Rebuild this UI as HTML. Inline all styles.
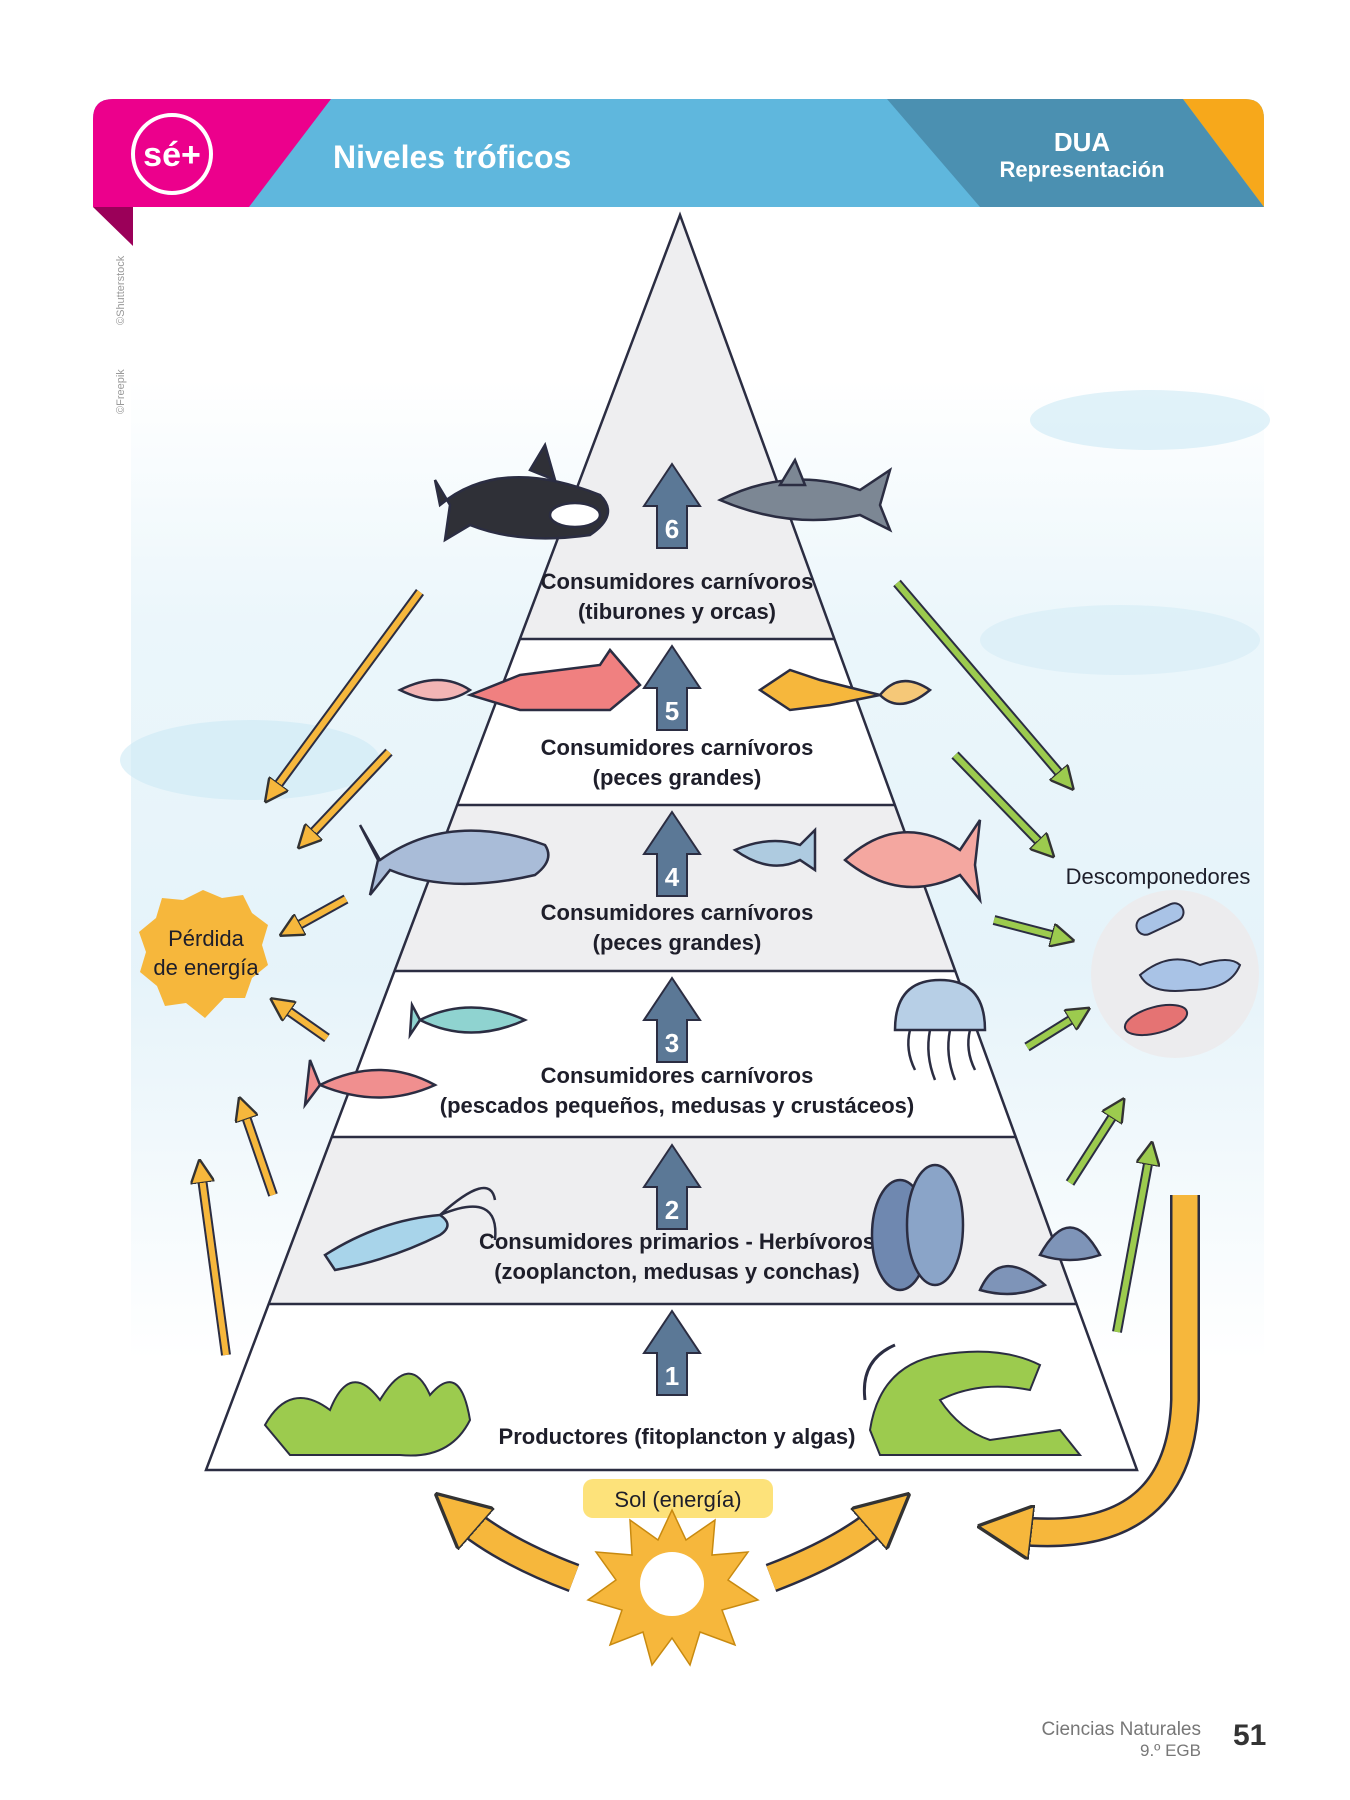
<!DOCTYPE html>
<html><head><meta charset="utf-8"><style>
html,body{margin:0;padding:0;background:#fff}
svg{display:block}
text{font-family:"Liberation Sans",sans-serif}
</style></head><body>
<svg width="1350" height="1800" viewBox="0 0 1350 1800" xmlns="http://www.w3.org/2000/svg">
<defs>
<marker id="ao" viewBox="0 0 10 10" refX="5" refY="5" markerWidth="4" markerHeight="4" orient="auto"><path d="M0,0 L10,5 L0,10 Z" fill="#f6b73c" stroke="#333" stroke-width="1"/></marker>
<marker id="ag" viewBox="0 0 10 10" refX="5" refY="5" markerWidth="4" markerHeight="4" orient="auto"><path d="M0,0 L10,5 L0,10 Z" fill="#9ccb4e" stroke="#333" stroke-width="1"/></marker>
<marker id="ab" viewBox="0 0 10 10" refX="4" refY="5" markerWidth="2.2" markerHeight="2.2" orient="auto"><path d="M0,0 L10,5 L0,10 Z" fill="#f6b73c" stroke="#333" stroke-width="0.6"/></marker>
<linearGradient id="bg" x1="0" y1="0" x2="0" y2="1"><stop offset="0" stop-color="#fff"/><stop offset="0.25" stop-color="#e6f4fa"/><stop offset="0.6" stop-color="#dff0f8"/><stop offset="1" stop-color="#fff"/></linearGradient>
</defs>
<rect x="131" y="380" width="1133" height="980" fill="url(#bg)" opacity="0.8"/>
<ellipse cx="250" cy="760" rx="130" ry="40" fill="#cde9f5" opacity="0.6"/>
<ellipse cx="1150" cy="420" rx="120" ry="30" fill="#cde9f5" opacity="0.6"/>
<ellipse cx="1120" cy="640" rx="140" ry="35" fill="#d6edf7" opacity="0.6"/>
<path d="M93,119 Q93,99 113,99 L1245,99 Q1264,99 1264,119 L1264,207 L93,207 Z" fill="#5fb7dd"/>
<path d="M93,119 Q93,99 113,99 L331,99 L249,207 L93,207 Z" fill="#ec008c"/>
<path d="M887,99 L1183,99 L1264,207 L980,207 Z" fill="#4b90b1"/>
<path d="M1183,99 L1245,99 Q1264,99 1264,119 L1264,207 Z" fill="#f7a81b"/>
<path d="M93,207 L133,207 L133,246 Z" fill="#9b0059"/>
<circle cx="172" cy="154" r="39" fill="none" stroke="#fff" stroke-width="4"/>
<text x="172" y="166" font-size="34" font-weight="bold" fill="#fff" text-anchor="middle">sé+</text>
<text x="333" y="168" font-size="32" font-weight="bold" fill="#fff">Niveles tróficos</text>
<text x="1082" y="151" font-size="26" font-weight="bold" fill="#fff" text-anchor="middle">DUA</text>
<text x="1082" y="177" font-size="22" font-weight="bold" fill="#fff" text-anchor="middle">Representación</text>
<text transform="translate(124,325) rotate(-90)" font-size="11" fill="#999">©Shutterstock</text>
<text transform="translate(124,414) rotate(-90)" font-size="11" fill="#999">©Freepik</text>
<path d="M680,215 L520,639 L834,639 Z" fill="#eeeef0"/>
<path d="M520,639 L457,805 L895,805 L834,639 Z" fill="#fff"/>
<path d="M457,805 L394,971 L955,971 L895,805 Z" fill="#eeeef0"/>
<path d="M394,971 L332,1137 L1016,1137 L955,971 Z" fill="#fff"/>
<path d="M332,1137 L269,1304 L1076,1304 L1016,1137 Z" fill="#eeeef0"/>
<path d="M269,1304 L206,1470 L1137,1470 L1076,1304 Z" fill="#fff"/>
<g stroke="#2b2d42" stroke-width="2.5" fill="none">
<path d="M680,215 L206,1470 L1137,1470 Z"/>
<path d="M520,639 L834,639 M457,805 L895,805 M394,971 L955,971 M332,1137 L1016,1137 M269,1304 L1076,1304"/>
</g>
<g fill="#5b7896" stroke="#2b2d42" stroke-width="2">
<path d="M672,464 L700,506 L687,506 L687,548 L657,548 L657,506 L644,506 Z"/>
<path d="M672,646 L700,688 L687,688 L687,730 L657,730 L657,688 L644,688 Z"/>
<path d="M672,812 L700,854 L687,854 L687,896 L657,896 L657,854 L644,854 Z"/>
<path d="M672,978 L700,1020 L687,1020 L687,1062 L657,1062 L657,1020 L644,1020 Z"/>
<path d="M672,1145 L700,1187 L687,1187 L687,1229 L657,1229 L657,1187 L644,1187 Z"/>
<path d="M672,1311 L700,1353 L687,1353 L687,1395 L657,1395 L657,1353 L644,1353 Z"/>
</g>
<g fill="#fff" font-size="26" font-weight="bold" text-anchor="middle">
<text x="672" y="538">6</text><text x="672" y="720">5</text><text x="672" y="886">4</text>
<text x="672" y="1052">3</text><text x="672" y="1219">2</text><text x="672" y="1385">1</text>
</g>
<g font-size="22" fill="#1e1e2a" text-anchor="middle" font-weight="bold">
<text x="677" y="589">Consumidores carnívoros</text><text x="677" y="619">(tiburones y orcas)</text>
<text x="677" y="755">Consumidores carnívoros</text><text x="677" y="785">(peces grandes)</text>
<text x="677" y="920">Consumidores carnívoros</text><text x="677" y="950">(peces grandes)</text>
<text x="677" y="1083">Consumidores carnívoros</text><text x="677" y="1113">(pescados pequeños, medusas y crustáceos)</text>
<text x="677" y="1249">Consumidores primarios - Herbívoros</text><text x="677" y="1279">(zooplancton, medusas y conchas)</text>
<text x="677" y="1444">Productores (fitoplancton y algas)</text>
</g>
<g stroke="#2b2d42" stroke-width="2.5">
<path d="M440,505 Q500,455 600,495 Q620,515 590,535 Q520,545 470,525 L445,540 L450,505 L435,480 Z" fill="#2f3037"/>
<ellipse cx="575" cy="515" rx="25" ry="12" fill="#fff"/>
<path d="M530,470 L545,445 L555,480 Z" fill="#2f3037"/>
<path d="M720,500 Q790,465 860,490 L890,470 L880,505 L890,530 L860,515 Q790,530 720,500 Z" fill="#7c8794"/>
<path d="M780,485 L795,460 L805,485 Z" fill="#7c8794"/>
<path d="M470,695 L520,675 L600,665 L610,650 L640,685 L610,710 L520,710 Z" fill="#f08080"/>
<path d="M400,690 Q440,670 470,690 Q440,710 400,690 Z" fill="#f3b5b5"/>
<path d="M880,695 L820,680 L790,670 L760,690 L790,710 L830,705 Z" fill="#f6b73c"/>
<path d="M880,695 Q900,670 930,690 Q900,715 880,695 Z" fill="#f5c878"/>
<path d="M380,860 Q450,810 545,845 Q555,860 535,875 Q450,895 390,870 L370,895 L378,860 L360,825 Z" fill="#a9bcd8"/>
<path d="M735,850 Q770,835 800,845 L815,830 L815,870 L800,860 Q770,875 735,850 Z" fill="#aecbe0"/>
<path d="M845,860 Q900,810 960,850 L980,820 L975,865 L980,900 L960,875 Q900,905 845,860 Z" fill="#f4a7a0"/>
<path d="M420,1020 Q470,995 525,1020 Q470,1045 420,1020 L410,1035 L412,1005 Z" fill="#8fd3d0"/>
<path d="M320,1085 Q380,1055 435,1085 Q380,1110 320,1085 L305,1105 L310,1060 Z" fill="#f08f8f"/>
<path d="M895,1030 Q895,980 940,980 Q985,980 985,1030 Z" fill="#b7cfe6"/>
<path d="M910,1030 q-5,20 5,40 M930,1030 q-5,25 5,50 M950,1030 q-5,25 5,50 M970,1030 q-5,20 5,40" fill="none"/>
<path d="M325,1255 Q380,1220 440,1215 Q455,1225 440,1235 Q390,1260 335,1270 Z" fill="#a8d4ea"/>
<path d="M440,1215 Q490,1170 495,1200 M440,1215 Q500,1190 495,1240" fill="none"/>
<ellipse cx="900" cy="1235" rx="28" ry="55" fill="#6f88b0"/>
<ellipse cx="935" cy="1225" rx="28" ry="60" fill="#8aa4c8"/>
<path d="M980,1290 Q1000,1245 1045,1285 Q1015,1300 980,1290 Z" fill="#7e94b8"/>
<path d="M1040,1255 Q1070,1200 1100,1255 Q1070,1265 1040,1255 Z" fill="#7e94b8"/>
</g>
<g fill="#9ccb4e" stroke="#2b2d42" stroke-width="2">
<path d="M265,1425 Q290,1380 330,1410 Q350,1360 380,1400 Q410,1350 430,1395 Q460,1360 470,1420 Q450,1460 400,1455 L290,1455 Z"/>
<path d="M870,1430 Q880,1365 940,1355 Q1000,1345 1040,1365 L1030,1390 Q980,1380 940,1400 Q960,1430 990,1440 L1060,1430 L1080,1455 L880,1455 Z"/>
</g>
<path d="M865,1400 Q860,1360 895,1345" stroke="#2b2d42" stroke-width="3" fill="none"/>
<g stroke="#2b2d42" stroke-width="10" stroke-linecap="butt">
<line x1="420" y1="592" x2="272" y2="793"/><line x1="389" y1="752" x2="306" y2="840"/><line x1="346" y1="899" x2="290" y2="930"/>
<line x1="327" y1="1038" x2="280" y2="1005"/><line x1="273" y1="1195" x2="243" y2="1108"/><line x1="226" y1="1355" x2="201" y2="1171"/>
</g>
<g stroke="#f6b73c" stroke-width="6">
<line x1="420" y1="592" x2="272" y2="793" marker-end="url(#ao)"/><line x1="389" y1="752" x2="306" y2="840" marker-end="url(#ao)"/><line x1="346" y1="899" x2="290" y2="930" marker-end="url(#ao)"/>
<line x1="327" y1="1038" x2="280" y2="1005" marker-end="url(#ao)"/><line x1="273" y1="1195" x2="243" y2="1108" marker-end="url(#ao)"/><line x1="226" y1="1355" x2="201" y2="1171" marker-end="url(#ao)"/>
</g>
<g stroke="#2b2d42" stroke-width="10">
<line x1="897" y1="583" x2="1066" y2="781"/><line x1="955" y1="755" x2="1046" y2="849"/><line x1="994" y1="920" x2="1063" y2="938"/>
<line x1="1027" y1="1047" x2="1080" y2="1014"/><line x1="1070" y1="1183" x2="1118" y2="1108"/><line x1="1117" y1="1332" x2="1150" y2="1153"/>
</g>
<g stroke="#9ccb4e" stroke-width="6">
<line x1="897" y1="583" x2="1066" y2="781" marker-end="url(#ag)"/><line x1="955" y1="755" x2="1046" y2="849" marker-end="url(#ag)"/><line x1="994" y1="920" x2="1063" y2="938" marker-end="url(#ag)"/>
<line x1="1027" y1="1047" x2="1080" y2="1014" marker-end="url(#ag)"/><line x1="1070" y1="1183" x2="1118" y2="1108" marker-end="url(#ag)"/><line x1="1117" y1="1332" x2="1150" y2="1153" marker-end="url(#ag)"/>
</g>
<path d="M203,890 L222,898 L243,895 L252,913 L268,925 L262,945 L268,965 L252,978 L245,998 L224,998 L205,1018 L186,1003 L165,1006 L157,986 L140,972 L146,952 L139,932 L156,918 L162,898 L183,900 Z" fill="#f6b73c"/>
<text x="206" y="946" font-size="22" fill="#1e1e2a" text-anchor="middle">Pérdida</text>
<text x="206" y="975" font-size="22" fill="#1e1e2a" text-anchor="middle">de energía</text>
<text x="1158" y="884" font-size="22" fill="#1e1e2a" text-anchor="middle">Descomponedores</text>
<circle cx="1175" cy="974" r="84" fill="#ececee"/>
<g stroke="#2b2d42" stroke-width="2">
<rect x="1135" y="910" width="50" height="18" rx="9" fill="#a9c3e6" transform="rotate(-25 1160 919)"/>
<path d="M1140,975 Q1170,950 1200,965 Q1230,955 1240,965 Q1230,990 1190,990 Q1150,995 1140,975 Z" fill="#a9c3e6"/>
<ellipse cx="1156" cy="1020" rx="32" ry="13" fill="#e57373" transform="rotate(-15 1156 1020)"/>
</g>
<rect x="583" y="1479" width="190" height="39" rx="10" fill="#fde27a"/>
<text x="678" y="1507" font-size="22" fill="#1e1e2a" text-anchor="middle">Sol (energía)</text>
<path d="M672,1510 L686,1540 L715,1520 L712,1555 L748,1552 L728,1580 L758,1600 L722,1610 L735,1645 L700,1632 L690,1665 L672,1638 L652,1665 L643,1632 L610,1645 L622,1610 L588,1600 L616,1580 L596,1552 L632,1555 L630,1520 L658,1540 Z" fill="#f6b73c" stroke="#c88a10" stroke-width="1.5"/>
<circle cx="672" cy="1584" r="32" fill="#fff"/>
<g fill="none" stroke-linecap="butt">
<path d="M574,1578 Q500,1550 460,1515" stroke="#2b2d42" stroke-width="30"/>
<path d="M574,1578 Q500,1550 460,1515" stroke="#f6b73c" stroke-width="25" marker-end="url(#ab)"/>
<path d="M771,1578 Q845,1550 885,1515" stroke="#2b2d42" stroke-width="30"/>
<path d="M771,1578 Q845,1550 885,1515" stroke="#f6b73c" stroke-width="25" marker-end="url(#ab)"/>
<path d="M1185,1195 L1185,1400 Q1180,1550 1010,1530" stroke="#2b2d42" stroke-width="30"/>
<path d="M1185,1195 L1185,1400 Q1180,1550 1010,1530" stroke="#f6b73c" stroke-width="25" marker-end="url(#ab)"/>
</g>
<text x="1201" y="1735" font-size="19" fill="#777" text-anchor="end">Ciencias Naturales</text>
<text x="1201" y="1756" font-size="17" fill="#777" text-anchor="end">9.º EGB</text>
<text x="1233" y="1745" font-size="30" font-weight="bold" fill="#333">51</text>
</svg>
</body></html>
